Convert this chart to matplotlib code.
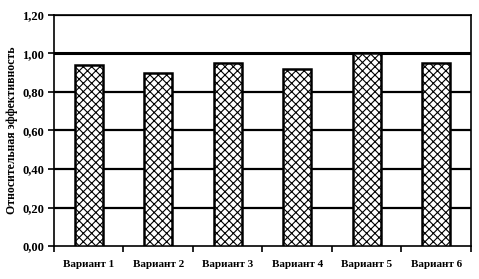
import numpy as np
import matplotlib
matplotlib.use("Agg")
import matplotlib.pyplot as plt

plt.rcParams["font.family"] = ["Liberation Serif", "DejaVu Serif"]
plt.rcParams["hatch.linewidth"] = 0.8

categories = ["Вариант 1", "Вариант 2", "Вариант 3", "Вариант 4", "Вариант 5", "Вариант 6"]
values = [0.94, 0.90, 0.95, 0.92, 1.00, 0.95]
yticks = [0.0, 0.2, 0.4, 0.6, 0.8, 1.0, 1.2]
ytick_labels = ["0,00", "0,20", "0,40", "0,60", "0,80", "1,00", "1,20"]

fig = plt.figure(figsize=(4.79, 2.79), dpi=100)
ax = fig.add_axes([0.1127, 0.118, 0.983 - 0.1127, 0.947 - 0.118])

x = np.arange(len(categories))
ax.set_xlim(-0.5, len(categories) - 0.5)
ax.set_ylim(0, 1.2)

for y in yticks[1:]:
    lw = 2.2 if y == 1.0 else 1.6
    ax.axhline(y, color="black", lw=lw, zorder=1)

ax.bar(x, values, width=0.4, facecolor="white", edgecolor="black",
       hatch="xxxx", linewidth=1.8, zorder=3)

ax.set_yticks(yticks)
ax.set_yticklabels(ytick_labels, fontsize=9, fontweight="bold")
ax.set_xticks(x)
ax.set_xticklabels(categories, fontsize=8, fontweight="bold")
ax.set_xticks(np.arange(-0.5, len(categories)), minor=True)
ax.tick_params(axis="x", which="major", length=0, pad=10)
ax.tick_params(axis="x", which="minor", length=4, width=1.2, direction="out")
ax.tick_params(axis="y", length=4, width=1.2, direction="out", pad=3)

for side in ["top", "right", "left", "bottom"]:
    ax.spines[side].set_linewidth(1.2)

ax.set_ylabel("Относительная эффективность", fontsize=8.5, fontweight="bold", labelpad=3)

fig.savefig("out.png", dpi=100)
